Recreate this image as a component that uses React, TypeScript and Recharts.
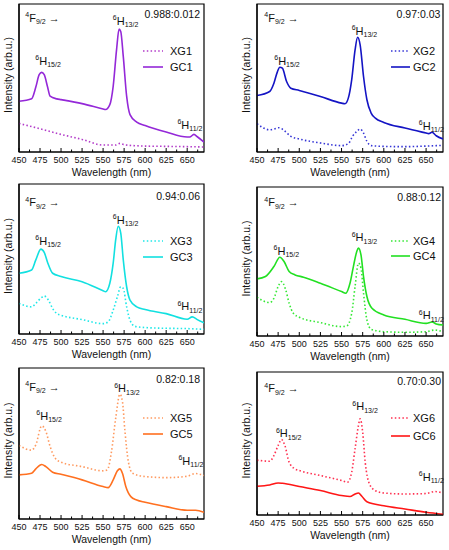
import React from "react";
import { LineChart, Line, XAxis, YAxis, ReferenceArea, ReferenceDot } from "recharts";

const FONT = "'Liberation Sans', Arial, Helvetica, sans-serif";

// wavelength axis (nm): labelled every 25, minor ticks every 12.5
const wlTicks = [450, 462.5, 475, 487.5, 500, 512.5, 525, 537.5, 550, 562.5, 575, 587.5, 600, 612.5, 625, 637.5, 650, 662.5];
const ratios = ["0.988:0.012", "0.97:0.03", "0.94:0.06", "0.88:0.12", "0.82:0.18", "0.70:0.30"];
const xgNames = ["XG1", "XG2", "XG3", "XG4", "XG5", "XG6"];
const gcNames = ["GC1", "GC2", "GC3", "GC4", "GC5", "GC6"];

// emission spectra, intensity in arbitrary units (0..100 of the panel)
const xg1Wl = [450, 475, 500, 525, 550, 565, 570, 575, 600, 625, 650, 670];
const xg1Int = [19.3, 15.7, 11.9, 8.5, 4.7, 4.7, 5.8, 4.9, 4.0, 3.8, 3.6, 3.4];
const gc1Wl = [450, 465, 470, 474, 477, 480, 484, 487, 495, 500, 525, 550, 553, 558, 562, 566, 569, 571, 574, 578, 582, 590, 600, 625, 650, 653, 658, 662, 670];
const gc1Int = [34.3, 36, 43.9, 52.2, 53.8, 52.2, 43.9, 37.7, 35.9, 35.4, 32.7, 29.1, 28.7, 32, 44.4, 69, 83, 81.4, 64.6, 37.7, 25.3, 20.2, 17.9, 13.5, 10.1, 10.1, 11.9, 10.3, 6.7];

const xg2Wl = [450, 465, 470, 476, 482, 490, 500, 525, 550, 558, 563, 568, 572, 576, 580, 585, 600, 625, 650, 670];
const xg2Int = [19.1, 15, 15.5, 16.4, 14.6, 10.6, 8.8, 6.1, 4.3, 5.6, 10.6, 13.9, 15.5, 12.8, 7.2, 4.3, 3.8, 3.6, 4, 4.5];
const gc2Wl = [450, 465, 470, 474, 477, 480, 485, 490, 500, 525, 550, 554, 558, 562, 566, 569, 572, 576, 580, 585, 590, 600, 625, 650, 653, 657, 662, 670];
const gc2Int = [38.2, 40.9, 46.5, 54, 57.3, 56.6, 47.6, 43.1, 41.6, 37.5, 33, 32.6, 36.4, 48.8, 69, 77.5, 72.4, 51, 35.3, 26.3, 22.9, 20, 16.2, 12.8, 12.4, 13.3, 11, 8.8];

const xg3Wl = [450, 465, 470, 477, 480, 485, 490, 495, 500, 525, 550, 556, 562, 567, 571, 574, 578, 582, 588, 600, 625, 650, 670];
const xg3Int = [20.4, 18.1, 20.4, 24.4, 25.3, 22.6, 17, 13.6, 12.5, 9.6, 6.9, 8.1, 15.9, 24.8, 31.5, 30.4, 18.1, 9.2, 5.1, 4.3, 3.8, 3.6, 3.1];
const gc3Wl = [450, 465, 470, 476, 480, 484, 490, 500, 525, 550, 553, 558, 562, 565, 568, 571, 574, 578, 582, 590, 600, 625, 650, 656, 662, 670];
const gc3Int = [40.5, 42.7, 49.4, 56.6, 54.4, 47.7, 40.5, 38.3, 34.9, 28.9, 28.2, 33.8, 47.2, 62.9, 71.8, 67.3, 49.4, 31.5, 22.6, 18.1, 16.3, 13.6, 9.8, 11.4, 9.6, 7.4];

const xg4Wl = [450, 465, 470, 475, 479, 484, 488, 493, 500, 525, 550, 556, 562, 566, 570, 573, 576, 580, 585, 600, 625, 650, 660, 670];
const xg4Int = [26, 22.4, 25.3, 33.2, 36.5, 30.9, 22, 15.2, 12.6, 9, 6.3, 6.7, 15.2, 33.2, 48.9, 45.5, 28.7, 10.8, 4.5, 2.9, 2.5, 2.9, 4, 2.9];
const gc4Wl = [450, 460, 470, 477, 482, 488, 495, 505, 525, 550, 555, 560, 564, 568, 570, 573, 576, 580, 586, 600, 625, 650, 657, 662, 670];
const gc4Int = [38.3, 39.9, 46.6, 52.9, 50, 43.3, 41, 39.5, 35.4, 29.8, 28.7, 35.4, 46.6, 56.7, 59, 54.5, 39.9, 26.5, 18.6, 14.1, 11.2, 8.5, 9.4, 8.1, 7.4];

const xg5Wl = [450, 465, 470, 477, 482, 487, 493, 500, 525, 550, 555, 560, 565, 570, 573, 576, 580, 585, 600, 625, 650, 660, 670];
const xg5Int = [48.7, 45.6, 49.1, 61.7, 58, 48, 40.3, 37.6, 34.7, 31.9, 32.5, 44.7, 66.8, 82.7, 77.9, 58, 38.1, 30.3, 28.1, 27.4, 28.3, 30.1, 28.8];
const gc5Wl = [450, 465, 470, 477, 482, 490, 500, 525, 550, 556, 562, 567, 570, 573, 577, 583, 590, 600, 625, 650, 660, 670];
const gc5Int = [29.2, 30.3, 33.2, 36.1, 34.7, 31, 29.6, 25.9, 21.5, 20.8, 25.9, 31.9, 33.2, 30.3, 21.5, 14.8, 12.6, 11.1, 8.2, 5.8, 5.8, 4.4];

const xg6Wl = [450, 465, 470, 475, 479, 483, 488, 495, 500, 525, 550, 557, 562, 566, 570, 572, 575, 578, 583, 590, 600, 625, 650, 660, 670];
const xg6Int = [38.3, 37.6, 41.6, 48.6, 52.8, 48.6, 36.9, 32.2, 31.1, 27.6, 24.1, 22.9, 29.9, 46.3, 62.6, 67.3, 57.9, 36.9, 21.7, 17, 15.4, 14.7, 15, 16.4, 15.4];
const gc6Wl = [450, 465, 475, 480, 500, 525, 550, 560, 566, 570, 574, 580, 600, 625, 650, 670];
const gc6Int = [20.1, 21, 22.4, 22.2, 19.9, 17.1, 13.6, 12.9, 14.7, 15.4, 13.1, 9.3, 6.5, 4.2, 1.9, 0.5];

const zip = (wl: number[], v: number[]) => wl.map((w, i) => ({ wl: w, v: v[i] }));

const xgData = [zip(xg1Wl, xg1Int), zip(xg2Wl, xg2Int), zip(xg3Wl, xg3Int), zip(xg4Wl, xg4Int), zip(xg5Wl, xg5Int), zip(xg6Wl, xg6Int)];
const gcData = [zip(gc1Wl, gc1Int), zip(gc2Wl, gc2Int), zip(gc3Wl, gc3Int), zip(gc4Wl, gc4Int), zip(gc5Wl, gc5Int), zip(gc6Wl, gc6Int)];

// layout / style per panel (pixel boxes of the plot area)
const panels = [
  { left: 0, w: 224, pl: 19, pr: 204, pt: 4, pb: 152, leg: [47, 63], xgColor: "#b23bc9", gcColor: "#9428d8",
    notes: { f: [457.5, 88], h15: [469.4, 59], h13: [561.6, 85.9], h11: [638.4, 15.7], r: [665.3, 90.4] } },
  { left: 224, w: 225, pl: 257, pr: 443, pt: 4, pb: 152, leg: [47, 63], xgColor: "#3535d6", gcColor: "#1414c4",
    notes: { f: [458.6, 88], h15: [470.4, 58.9], h13: [562, 79.1], h11: [641.4, 15.1], r: [666.9, 90.3] } },
  { left: 0, w: 224, pl: 19, pr: 204, pt: 184, pb: 334, leg: [57, 73], xgColor: "#1ee8e8", gcColor: "#12e0e0",
    notes: { f: [457.5, 85.2], h15: [469.4, 59.5], h13: [561.6, 73.6], h11: [638.4, 15.9], r: [665.3, 89.3] } },
  { left: 224, w: 225, pl: 257, pr: 443, pt: 187, pb: 336, leg: [54, 69], xgColor: "#35e835", gcColor: "#22e022",
    notes: { f: [458.6, 87], h15: [469.6, 54.5], h13: [562, 63.5], h11: [641.4, 11.2], r: [667.7, 90.4] } },
  { left: 0, w: 224, pl: 19, pr: 204, pt: 368, pb: 519, leg: [50, 66], xgColor: "#ff9a60", gcColor: "#ff7020",
    notes: { f: [457.5, 85], h15: [470.6, 65.7], h13: [563.2, 84.1], h11: [639.6, 35.8], r: [665.3, 90] } },
  { left: 224, w: 225, pl: 257, pr: 443, pt: 372, pb: 515, leg: [46, 64], xgColor: "#ff3050", gcColor: "#ff1616",
    notes: { f: [458.6, 86], h15: [472.4, 54.4], h13: [562.8, 73.1], h11: [641.4, 24.1], r: [667.7, 90.7] } },
];

const Y_AXIS_W = 14;
const X_AXIS_H = 30;

const WlTick = (props: any) => {
  const { x, y, payload } = props;
  const major = payload.value % 25 === 0;
  return (
    <g>
      <line x1={x} x2={x} y1={y} y2={y - (major ? 4 : 2.5)} stroke="#000" strokeWidth={1} />
      {major && (
        <text x={x} y={y + 10.5} textAnchor="middle" fontSize={9} fontFamily={FONT} fill="#111">
          {payload.value}
        </text>
      )}
    </g>
  );
};

const xTitle = (props: any) => {
  const { x, y, width } = props.viewBox;
  return (
    <text x={x + width / 2} y={y + 24} textAnchor="middle" fontSize={10.5} fontFamily={FONT} fill="#111">
      Wavelength (nm)
    </text>
  );
};

const yTitle = (props: any) => {
  const { x, y, width, height } = props.viewBox;
  const cx = x + width - 11;
  const cy = y + height / 2 - 3;
  return (
    <text x={cx} y={cy} transform={`rotate(-90 ${cx} ${cy})`} textAnchor="middle" dominantBaseline="central" fontSize={10.5} fontFamily={FONT} fill="#111">
      Intensity (arb.u.)
    </text>
  );
};

const termLabel = (sup: string, main: string, sub: string, tail?: string) => (props: any) => {
  const { x, y } = props.viewBox;
  return (
    <text x={x} y={y} fontSize={11} fontFamily={FONT} fill="#111">
      <tspan fontSize={7} dy={-4.5}>{sup}</tspan>
      <tspan dy={4.5}>{main}</tspan>
      <tspan fontSize={7} dy={2.5}>{sub}</tspan>
      {tail ? <tspan dy={-2.5}>{tail}</tspan> : null}
    </text>
  );
};

const ratioLabel = (text: string) => (props: any) => {
  const { x, y } = props.viewBox;
  return (
    <text x={x} y={y} textAnchor="end" fontSize={10.5} fontFamily={FONT} fill="#111">
      {text}
    </text>
  );
};

const Note = ({ at, content }: { at: number[]; content: any }) => (
  <ReferenceDot x={at[0]} y={at[1]} r={0} fill="none" stroke="none" label={{ content }} ifOverflow="visible" />
);

function Panel({ idx }: { idx: number }) {
  const p = panels[idx];
  const top = p.pt - 4;
  const height = p.pb - p.pt + 4 + X_AXIS_H;
  const margin = { top: 4, right: p.left + p.w - p.pr, bottom: 0, left: p.pl - p.left - Y_AXIS_W };
  const lx = p.pl - p.left;
  const legX = p.left === 0 ? [124, 144, 151] : [134, 153, 156];
  return (
    <div style={{ position: "absolute", left: p.left, top, width: p.w, height }}>
      <LineChart width={p.w} height={height} margin={margin}>
        <XAxis
          dataKey="wl"
          type="number"
          domain={[450, 670]}
          ticks={wlTicks}
          interval={0}
          tickSize={0}
          tickMargin={0}
          tickLine={false}
          tick={<WlTick />}
          height={X_AXIS_H}
          axisLine={{ stroke: "#000", strokeWidth: 1.2 }}
          label={{ content: xTitle }}
          allowDataOverflow
        />
        <YAxis
          type="number"
          domain={[0, 100]}
          width={Y_AXIS_W}
          tick={false}
          tickLine={false}
          axisLine={{ stroke: "#000", strokeWidth: 1.2 }}
          label={{ content: yTitle }}
          allowDataOverflow
        />
        <ReferenceArea x1={450} x2={670} y1={0} y2={100} fill="none" stroke="#000" strokeWidth={1.2} ifOverflow="visible" />
        <Line
          data={xgData[idx]}
          dataKey="v"
          type="monotone"
          stroke={p.xgColor}
          strokeWidth={1.6}
          strokeDasharray="1.5 2.3"
          dot={false}
          activeDot={false}
          isAnimationActive={false}
        />
        <Line
          data={gcData[idx]}
          dataKey="v"
          type="monotone"
          stroke={p.gcColor}
          strokeWidth={1.6}
          dot={false}
          activeDot={false}
          isAnimationActive={false}
        />
        <Note at={p.notes.f} content={termLabel("4", "F", "9/2", " \u2192")} />
        <Note at={p.notes.h15} content={termLabel("6", "H", "15/2")} />
        <Note at={p.notes.h13} content={termLabel("6", "H", "13/2")} />
        <Note at={p.notes.h11} content={termLabel("6", "H", "11/2")} />
        <Note at={p.notes.r} content={ratioLabel(ratios[idx])} />
      </LineChart>
      <svg width={p.w} height={height} style={{ position: "absolute", left: 0, top: 0, pointerEvents: "none" }}>
        <line x1={lx + legX[0]} x2={lx + legX[1]} y1={4 + p.leg[0]} y2={4 + p.leg[0]} stroke={p.xgColor} strokeWidth={1.6} strokeDasharray="1.5 2.3" />
        <text x={lx + legX[2]} y={4 + p.leg[0]} dominantBaseline="central" fontSize={11} fontFamily={FONT} fill="#111">
          {xgNames[idx]}
        </text>
        <line x1={lx + legX[0]} x2={lx + legX[1]} y1={4 + p.leg[1]} y2={4 + p.leg[1]} stroke={p.gcColor} strokeWidth={1.6} />
        <text x={lx + legX[2]} y={4 + p.leg[1]} dominantBaseline="central" fontSize={11} fontFamily={FONT} fill="#111">
          {gcNames[idx]}
        </text>
      </svg>
    </div>
  );
}

export default function App() {
  return (
    <div style={{ position: "absolute", left: 0, top: 0, width: 449, height: 550, background: "#fff", fontFamily: FONT }}>
      {panels.map((_, i) => (
        <Panel key={i} idx={i} />
      ))}
    </div>
  );
}
